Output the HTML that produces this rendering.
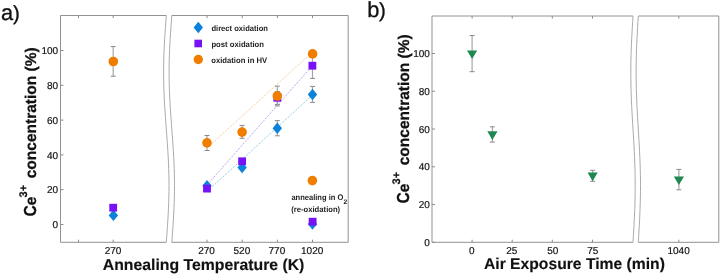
<!DOCTYPE html>
<html><head><meta charset="utf-8"><style>
html,body{margin:0;padding:0;background:#fff;}
body{width:720px;height:274px;overflow:hidden;}
svg{display:block;will-change:transform;}
text{font-family:"Liberation Sans",sans-serif;text-rendering:geometricPrecision;}
</style></head><body>
<svg width="720" height="274" viewBox="0 0 720 274">
<rect width="720" height="274" fill="#fff"/>
<path d="M166.30,15.5 L60.5,15.5 L60.5,242.3 L166.30,242.3" fill="none" stroke="#929292" stroke-width="1" />
<path d="M166.30,15.50 L165.88,21.17 L165.47,26.84 L165.07,32.51 L164.71,38.18 L164.39,43.85 L164.12,49.52 L163.89,55.19 L163.73,60.86 L163.63,66.53 L163.60,72.20 L163.63,77.87 L163.73,83.54 L163.89,89.21 L164.12,94.88 L164.39,100.55 L164.71,106.22 L165.07,111.89 L165.47,117.56 L165.88,123.23 L166.30,128.90 L166.72,134.57 L167.13,140.24 L167.53,145.91 L167.89,151.58 L168.21,157.25 L168.48,162.92 L168.71,168.59 L168.87,174.26 L168.97,179.93 L169.00,185.60 L168.97,191.27 L168.87,196.94 L168.71,202.61 L168.48,208.28 L168.21,213.95 L167.89,219.62 L167.53,225.29 L167.13,230.96 L166.72,236.63 L166.30,242.30" fill="none" stroke="#ababab" stroke-width="1" />
<path d="M171.80,15.50 L171.38,21.17 L170.97,26.84 L170.57,32.51 L170.21,38.18 L169.89,43.85 L169.62,49.52 L169.39,55.19 L169.23,60.86 L169.13,66.53 L169.10,72.20 L169.13,77.87 L169.23,83.54 L169.39,89.21 L169.62,94.88 L169.89,100.55 L170.21,106.22 L170.57,111.89 L170.97,117.56 L171.38,123.23 L171.80,128.90 L172.22,134.57 L172.63,140.24 L173.03,145.91 L173.39,151.58 L173.71,157.25 L173.98,162.92 L174.21,168.59 L174.37,174.26 L174.47,179.93 L174.50,185.60 L174.47,191.27 L174.37,196.94 L174.21,202.61 L173.98,208.28 L173.71,213.95 L173.39,219.62 L173.03,225.29 L172.63,230.96 L172.22,236.63 L171.80,242.30" fill="none" stroke="#ababab" stroke-width="1" />
<path d="M171.80,15.5 L348.2,15.5 L348.2,242.3 L171.80,242.3" fill="none" stroke="#929292" stroke-width="1" />
<line x1="60.50" y1="224.50" x2="63.50" y2="224.50" stroke="#8c8c8c" stroke-width="1" />
<line x1="60.50" y1="189.70" x2="63.50" y2="189.70" stroke="#8c8c8c" stroke-width="1" />
<line x1="60.50" y1="154.90" x2="63.50" y2="154.90" stroke="#8c8c8c" stroke-width="1" />
<line x1="60.50" y1="120.10" x2="63.50" y2="120.10" stroke="#8c8c8c" stroke-width="1" />
<line x1="60.50" y1="85.30" x2="63.50" y2="85.30" stroke="#8c8c8c" stroke-width="1" />
<line x1="60.50" y1="50.50" x2="63.50" y2="50.50" stroke="#8c8c8c" stroke-width="1" />
<line x1="78.50" y1="15.50" x2="78.50" y2="18.10" stroke="#8c8c8c" stroke-width="1" />
<line x1="78.50" y1="242.30" x2="78.50" y2="239.70" stroke="#8c8c8c" stroke-width="1" />
<line x1="113.20" y1="15.50" x2="113.20" y2="18.10" stroke="#8c8c8c" stroke-width="1" />
<line x1="113.20" y1="242.30" x2="113.20" y2="239.70" stroke="#8c8c8c" stroke-width="1" />
<line x1="207.00" y1="15.50" x2="207.00" y2="18.10" stroke="#8c8c8c" stroke-width="1" />
<line x1="207.00" y1="242.30" x2="207.00" y2="239.70" stroke="#8c8c8c" stroke-width="1" />
<line x1="242.20" y1="15.50" x2="242.20" y2="18.10" stroke="#8c8c8c" stroke-width="1" />
<line x1="242.20" y1="242.30" x2="242.20" y2="239.70" stroke="#8c8c8c" stroke-width="1" />
<line x1="277.40" y1="15.50" x2="277.40" y2="18.10" stroke="#8c8c8c" stroke-width="1" />
<line x1="277.40" y1="242.30" x2="277.40" y2="239.70" stroke="#8c8c8c" stroke-width="1" />
<line x1="312.50" y1="15.50" x2="312.50" y2="18.10" stroke="#8c8c8c" stroke-width="1" />
<line x1="312.50" y1="242.30" x2="312.50" y2="239.70" stroke="#8c8c8c" stroke-width="1" />
<path d="M633.00,16.0 L432.0,16.0 L432.0,242.3 L633.00,242.3" fill="none" stroke="#929292" stroke-width="1" />
<path d="M633.00,16.00 L632.66,21.66 L632.32,27.32 L632.00,32.97 L631.71,38.63 L631.44,44.29 L631.22,49.95 L631.04,55.60 L630.91,61.26 L630.83,66.92 L630.80,72.58 L630.83,78.23 L630.91,83.89 L631.04,89.55 L631.22,95.21 L631.44,100.86 L631.71,106.52 L632.00,112.18 L632.32,117.84 L632.66,123.49 L633.00,129.15 L633.34,134.81 L633.68,140.47 L634.00,146.12 L634.29,151.78 L634.56,157.44 L634.78,163.09 L634.96,168.75 L635.09,174.41 L635.17,180.07 L635.20,185.72 L635.17,191.38 L635.09,197.04 L634.96,202.70 L634.78,208.36 L634.56,214.01 L634.29,219.67 L634.00,225.33 L633.68,230.98 L633.34,236.64 L633.00,242.30" fill="none" stroke="#ababab" stroke-width="1" />
<path d="M638.30,16.00 L637.96,21.66 L637.62,27.32 L637.30,32.97 L637.01,38.63 L636.74,44.29 L636.52,49.95 L636.34,55.60 L636.21,61.26 L636.13,66.92 L636.10,72.58 L636.13,78.23 L636.21,83.89 L636.34,89.55 L636.52,95.21 L636.74,100.86 L637.01,106.52 L637.30,112.18 L637.62,117.84 L637.96,123.49 L638.30,129.15 L638.64,134.81 L638.98,140.47 L639.30,146.12 L639.59,151.78 L639.86,157.44 L640.08,163.09 L640.26,168.75 L640.39,174.41 L640.47,180.07 L640.50,185.72 L640.47,191.38 L640.39,197.04 L640.26,202.70 L640.08,208.36 L639.86,214.01 L639.59,219.67 L639.30,225.33 L638.98,230.98 L638.64,236.64 L638.30,242.30" fill="none" stroke="#ababab" stroke-width="1" />
<path d="M638.30,16.0 L718.8,16.0 L718.8,242.3 L638.30,242.3" fill="none" stroke="#929292" stroke-width="1" />
<line x1="432.00" y1="242.30" x2="435.00" y2="242.30" stroke="#8c8c8c" stroke-width="1" />
<line x1="432.00" y1="204.54" x2="435.00" y2="204.54" stroke="#8c8c8c" stroke-width="1" />
<line x1="432.00" y1="166.78" x2="435.00" y2="166.78" stroke="#8c8c8c" stroke-width="1" />
<line x1="432.00" y1="129.02" x2="435.00" y2="129.02" stroke="#8c8c8c" stroke-width="1" />
<line x1="432.00" y1="91.26" x2="435.00" y2="91.26" stroke="#8c8c8c" stroke-width="1" />
<line x1="432.00" y1="53.50" x2="435.00" y2="53.50" stroke="#8c8c8c" stroke-width="1" />
<line x1="472.10" y1="16.00" x2="472.10" y2="18.60" stroke="#8c8c8c" stroke-width="1" />
<line x1="472.10" y1="242.30" x2="472.10" y2="239.70" stroke="#8c8c8c" stroke-width="1" />
<line x1="512.20" y1="16.00" x2="512.20" y2="18.60" stroke="#8c8c8c" stroke-width="1" />
<line x1="512.20" y1="242.30" x2="512.20" y2="239.70" stroke="#8c8c8c" stroke-width="1" />
<line x1="552.30" y1="16.00" x2="552.30" y2="18.60" stroke="#8c8c8c" stroke-width="1" />
<line x1="552.30" y1="242.30" x2="552.30" y2="239.70" stroke="#8c8c8c" stroke-width="1" />
<line x1="592.50" y1="16.00" x2="592.50" y2="18.60" stroke="#8c8c8c" stroke-width="1" />
<line x1="592.50" y1="242.30" x2="592.50" y2="239.70" stroke="#8c8c8c" stroke-width="1" />
<line x1="678.80" y1="16.00" x2="678.80" y2="18.60" stroke="#8c8c8c" stroke-width="1" />
<line x1="678.80" y1="242.30" x2="678.80" y2="239.70" stroke="#8c8c8c" stroke-width="1" />
<line x1="207" y1="191.5" x2="312.5" y2="95" stroke="#70c0d8" stroke-width="1" stroke-dasharray="1 1.2"/>
<line x1="207" y1="185" x2="312.5" y2="65.5" stroke="#a884f0" stroke-width="1" stroke-dasharray="1 1.2"/>
<line x1="207" y1="148" x2="312.5" y2="52" stroke="#eec27e" stroke-width="1" stroke-dasharray="1 1.2"/>
<line x1="113.20" y1="46.60" x2="113.20" y2="76.20" stroke="#a6a6a6" stroke-width="1.2" />
<line x1="110.70" y1="46.60" x2="115.70" y2="46.60" stroke="#8a8a8a" stroke-width="1" />
<line x1="110.70" y1="76.20" x2="115.70" y2="76.20" stroke="#8a8a8a" stroke-width="1" />
<line x1="207.00" y1="135.50" x2="207.00" y2="150.50" stroke="#a6a6a6" stroke-width="1.2" />
<line x1="204.50" y1="135.50" x2="209.50" y2="135.50" stroke="#8a8a8a" stroke-width="1" />
<line x1="204.50" y1="150.50" x2="209.50" y2="150.50" stroke="#8a8a8a" stroke-width="1" />
<line x1="242.10" y1="125.40" x2="242.10" y2="138.30" stroke="#a6a6a6" stroke-width="1.2" />
<line x1="239.60" y1="125.40" x2="244.60" y2="125.40" stroke="#8a8a8a" stroke-width="1" />
<line x1="239.60" y1="138.30" x2="244.60" y2="138.30" stroke="#8a8a8a" stroke-width="1" />
<line x1="277.30" y1="120.60" x2="277.30" y2="135.80" stroke="#a6a6a6" stroke-width="1.2" />
<line x1="274.80" y1="120.60" x2="279.80" y2="120.60" stroke="#8a8a8a" stroke-width="1" />
<line x1="274.80" y1="135.80" x2="279.80" y2="135.80" stroke="#8a8a8a" stroke-width="1" />
<line x1="277.30" y1="91.50" x2="277.30" y2="104.50" stroke="#a6a6a6" stroke-width="1.2" />
<line x1="274.80" y1="91.50" x2="279.80" y2="91.50" stroke="#8a8a8a" stroke-width="1" />
<line x1="274.80" y1="104.50" x2="279.80" y2="104.50" stroke="#8a8a8a" stroke-width="1" />
<line x1="277.30" y1="86.10" x2="277.30" y2="105.90" stroke="#a6a6a6" stroke-width="1.2" />
<line x1="274.80" y1="86.10" x2="279.80" y2="86.10" stroke="#8a8a8a" stroke-width="1" />
<line x1="274.80" y1="105.90" x2="279.80" y2="105.90" stroke="#8a8a8a" stroke-width="1" />
<line x1="312.50" y1="86.40" x2="312.50" y2="102.40" stroke="#a6a6a6" stroke-width="1.2" />
<line x1="310.00" y1="86.40" x2="315.00" y2="86.40" stroke="#8a8a8a" stroke-width="1" />
<line x1="310.00" y1="102.40" x2="315.00" y2="102.40" stroke="#8a8a8a" stroke-width="1" />
<line x1="312.50" y1="53.00" x2="312.50" y2="78.40" stroke="#a6a6a6" stroke-width="1.2" />
<line x1="310.00" y1="53.00" x2="315.00" y2="53.00" stroke="#8a8a8a" stroke-width="1" />
<line x1="310.00" y1="78.40" x2="315.00" y2="78.40" stroke="#8a8a8a" stroke-width="1" />
<path d="M113.4,209.70 L118.10,215.4 L113.4,221.10 L108.70,215.4 Z" fill="#0c82da"/>
<path d="M207,180.00 L211.70,185.7 L207,191.40 L202.30,185.7 Z" fill="#0c82da"/>
<path d="M242.1,161.90 L246.80,167.6 L242.1,173.30 L237.40,167.6 Z" fill="#0c82da"/>
<path d="M277.3,122.50 L282.00,128.2 L277.3,133.90 L272.60,128.2 Z" fill="#0c82da"/>
<path d="M312.5,88.80 L317.20,94.5 L312.5,100.20 L307.80,94.5 Z" fill="#0c82da"/>
<path d="M312.5,218.30 L317.20,224 L312.5,229.70 L307.80,224 Z" fill="#0c82da"/>
<rect x="109.30" y="203.80" width="7.8" height="7.8" fill="#7812f6"/>
<rect x="203.10" y="184.70" width="7.8" height="7.8" fill="#7812f6"/>
<rect x="238.20" y="157.40" width="7.8" height="7.8" fill="#7812f6"/>
<rect x="273.40" y="93.90" width="7.8" height="7.8" fill="#7812f6"/>
<rect x="308.50" y="61.80" width="7.8" height="7.8" fill="#7812f6"/>
<rect x="308.70" y="217.80" width="7.8" height="7.8" fill="#7812f6"/>
<circle cx="113.3" cy="61.5" r="4.8" fill="#ee7d00"/>
<circle cx="207" cy="142.9" r="4.8" fill="#ee7d00"/>
<circle cx="242.1" cy="132.1" r="4.8" fill="#ee7d00"/>
<circle cx="277.3" cy="96" r="4.8" fill="#ee7d00"/>
<circle cx="312.6" cy="53.9" r="4.8" fill="#ee7d00"/>
<circle cx="312.4" cy="180.6" r="4.8" fill="#ee7d00"/>
<path d="M198.3,21.80 L203.00,27.5 L198.3,33.20 L193.60,27.5 Z" fill="#0c82da"/>
<rect x="194.40" y="39.70" width="7.6" height="7.6" fill="#7812f6"/>
<circle cx="198.3" cy="59.5" r="4.7" fill="#ee7d00"/>
<line x1="472.10" y1="35.50" x2="472.10" y2="71.70" stroke="#a6a6a6" stroke-width="1.2" />
<line x1="469.60" y1="35.50" x2="474.60" y2="35.50" stroke="#8a8a8a" stroke-width="1" />
<line x1="469.60" y1="71.70" x2="474.60" y2="71.70" stroke="#8a8a8a" stroke-width="1" />
<line x1="492.40" y1="126.80" x2="492.40" y2="142.10" stroke="#a6a6a6" stroke-width="1.2" />
<line x1="489.90" y1="126.80" x2="494.90" y2="126.80" stroke="#8a8a8a" stroke-width="1" />
<line x1="489.90" y1="142.10" x2="494.90" y2="142.10" stroke="#8a8a8a" stroke-width="1" />
<line x1="592.60" y1="170.30" x2="592.60" y2="181.30" stroke="#a6a6a6" stroke-width="1.2" />
<line x1="590.10" y1="170.30" x2="595.10" y2="170.30" stroke="#8a8a8a" stroke-width="1" />
<line x1="590.10" y1="181.30" x2="595.10" y2="181.30" stroke="#8a8a8a" stroke-width="1" />
<line x1="678.90" y1="169.40" x2="678.90" y2="189.80" stroke="#a6a6a6" stroke-width="1.2" />
<line x1="676.40" y1="169.40" x2="681.40" y2="169.40" stroke="#8a8a8a" stroke-width="1" />
<line x1="676.40" y1="189.80" x2="681.40" y2="189.80" stroke="#8a8a8a" stroke-width="1" />
<path d="M467.00,50.40 L477.20,50.40 L472.1,59.10 Z" fill="#1f8851"/>
<path d="M487.30,131.30 L497.50,131.30 L492.4,140.00 Z" fill="#1f8851"/>
<path d="M587.50,172.60 L597.70,172.60 L592.6,181.30 Z" fill="#1f8851"/>
<path d="M673.80,176.40 L684.00,176.40 L678.9,185.10 Z" fill="#1f8851"/>
<g fill="#111">
<text x="1.0" y="19.9" font-size="21.8" font-weight="normal" text-anchor="start" stroke="#111" stroke-width="0.3">a</text>
<text x="13.0" y="20.0" font-size="20.4" font-weight="normal" text-anchor="start" stroke="#111" stroke-width="0.3">)</text>
<text x="367.3" y="16.9" font-size="21.8" font-weight="normal" text-anchor="start" stroke="#111" stroke-width="0.3">b</text>
<text x="379.0" y="16.5" font-size="20.4" font-weight="normal" text-anchor="start" stroke="#111" stroke-width="0.3">)</text>
<text x="58.1" y="228.1" font-size="10" font-weight="normal" text-anchor="end" stroke="#111" stroke-width="0.18">0</text>
<text x="429.9" y="246.0" font-size="10" font-weight="normal" text-anchor="end" stroke="#111" stroke-width="0.18">0</text>
<text x="58.1" y="193.29999999999998" font-size="10" font-weight="normal" text-anchor="end" stroke="#111" stroke-width="0.18">20</text>
<text x="429.9" y="208.24" font-size="10" font-weight="normal" text-anchor="end" stroke="#111" stroke-width="0.18">20</text>
<text x="58.1" y="158.5" font-size="10" font-weight="normal" text-anchor="end" stroke="#111" stroke-width="0.18">40</text>
<text x="429.9" y="170.48000000000002" font-size="10" font-weight="normal" text-anchor="end" stroke="#111" stroke-width="0.18">40</text>
<text x="58.1" y="123.69999999999999" font-size="10" font-weight="normal" text-anchor="end" stroke="#111" stroke-width="0.18">60</text>
<text x="429.9" y="132.72" font-size="10" font-weight="normal" text-anchor="end" stroke="#111" stroke-width="0.18">60</text>
<text x="58.1" y="88.9" font-size="10" font-weight="normal" text-anchor="end" stroke="#111" stroke-width="0.18">80</text>
<text x="429.9" y="94.96000000000002" font-size="10" font-weight="normal" text-anchor="end" stroke="#111" stroke-width="0.18">80</text>
<text x="58.1" y="54.1" font-size="10" font-weight="normal" text-anchor="end" stroke="#111" stroke-width="0.18">100</text>
<text x="429.9" y="57.20000000000003" font-size="10" font-weight="normal" text-anchor="end" stroke="#111" stroke-width="0.18">100</text>
<text x="113.1" y="253.9" font-size="10" font-weight="normal" text-anchor="middle" stroke="#111" stroke-width="0.18">270</text>
<text x="206.6" y="253.9" font-size="10" font-weight="normal" text-anchor="middle" stroke="#111" stroke-width="0.18">270</text>
<text x="241.9" y="253.9" font-size="10" font-weight="normal" text-anchor="middle" stroke="#111" stroke-width="0.18">520</text>
<text x="276.9" y="253.9" font-size="10" font-weight="normal" text-anchor="middle" stroke="#111" stroke-width="0.18">770</text>
<text x="312.2" y="253.9" font-size="10" font-weight="normal" text-anchor="middle" stroke="#111" stroke-width="0.18">1020</text>
<text x="471.9" y="253.9" font-size="10" font-weight="normal" text-anchor="middle" stroke="#111" stroke-width="0.18">0</text>
<text x="511.7" y="253.9" font-size="10" font-weight="normal" text-anchor="middle" stroke="#111" stroke-width="0.18">25</text>
<text x="552.7" y="253.9" font-size="10" font-weight="normal" text-anchor="middle" stroke="#111" stroke-width="0.18">50</text>
<text x="592.7" y="253.9" font-size="10" font-weight="normal" text-anchor="middle" stroke="#111" stroke-width="0.18">75</text>
<text x="678.6" y="253.9" font-size="10" font-weight="normal" text-anchor="middle" stroke="#111" stroke-width="0.18">1040</text>
<text x="102.8" y="270.0" font-size="15.8" font-weight="bold" text-anchor="start" stroke="#111" stroke-width="0.15">Annealing Temperature (K)</text>
<text x="484.0" y="268.9" font-size="15.68" font-weight="bold" text-anchor="start" stroke="#111" stroke-width="0.15">Air Exposure Time (min)</text>
<text transform="translate(36.0,216.5) rotate(-90) scale(1,1.12)" font-size="15.5" font-weight="bold" stroke="#111" stroke-width="0.25">C</text>
<text transform="translate(36.0,205.3) rotate(-90)" font-size="15.5" font-weight="bold" stroke="#111" stroke-width="0.25">e</text>
<text transform="translate(26.6,197.4) rotate(-90)" font-size="11.0" font-weight="bold" stroke="#111" stroke-width="0.2">3+</text>
<text transform="translate(36.0,178.3) rotate(-90)" font-size="15.5" font-weight="bold" stroke="#111" stroke-width="0.25">concentration (%)</text>
<text transform="translate(408.9,203.5) rotate(-90) scale(1,1.12)" font-size="15.5" font-weight="bold" stroke="#111" stroke-width="0.25">C</text>
<text transform="translate(408.9,192.3) rotate(-90)" font-size="15.5" font-weight="bold" stroke="#111" stroke-width="0.25">e</text>
<text transform="translate(399.5,184.4) rotate(-90)" font-size="11.0" font-weight="bold" stroke="#111" stroke-width="0.2">3+</text>
<text transform="translate(408.9,165.3) rotate(-90)" font-size="15.5" font-weight="bold" stroke="#111" stroke-width="0.25">concentration (%)</text>
<text x="211.4" y="30.6" font-size="8.1" font-weight="bold" textLength="56.6" lengthAdjust="spacingAndGlyphs" fill="#1e1e1e">direct oxidation</text>
<text x="211.4" y="46.5" font-size="8.1" font-weight="bold" textLength="52.6" lengthAdjust="spacingAndGlyphs" fill="#1e1e1e">post oxidation</text>
<text x="211.2" y="62.7" font-size="8.1" font-weight="bold" textLength="56.0" lengthAdjust="spacingAndGlyphs" fill="#1e1e1e">oxidation in HV</text>
<text x="291.4" y="199.8" font-size="8.1" font-weight="bold" textLength="51.9" lengthAdjust="spacingAndGlyphs" fill="#1e1e1e">annealing in O</text>
<text x="343.6" y="203.6" font-size="6.6" font-weight="bold" fill="#1e1e1e">2</text>
<text x="291.2" y="211.7" font-size="8.1" font-weight="bold" textLength="49.0" lengthAdjust="spacingAndGlyphs" fill="#1e1e1e">(re-oxidation)</text>
</g>
</svg>
</body></html>
